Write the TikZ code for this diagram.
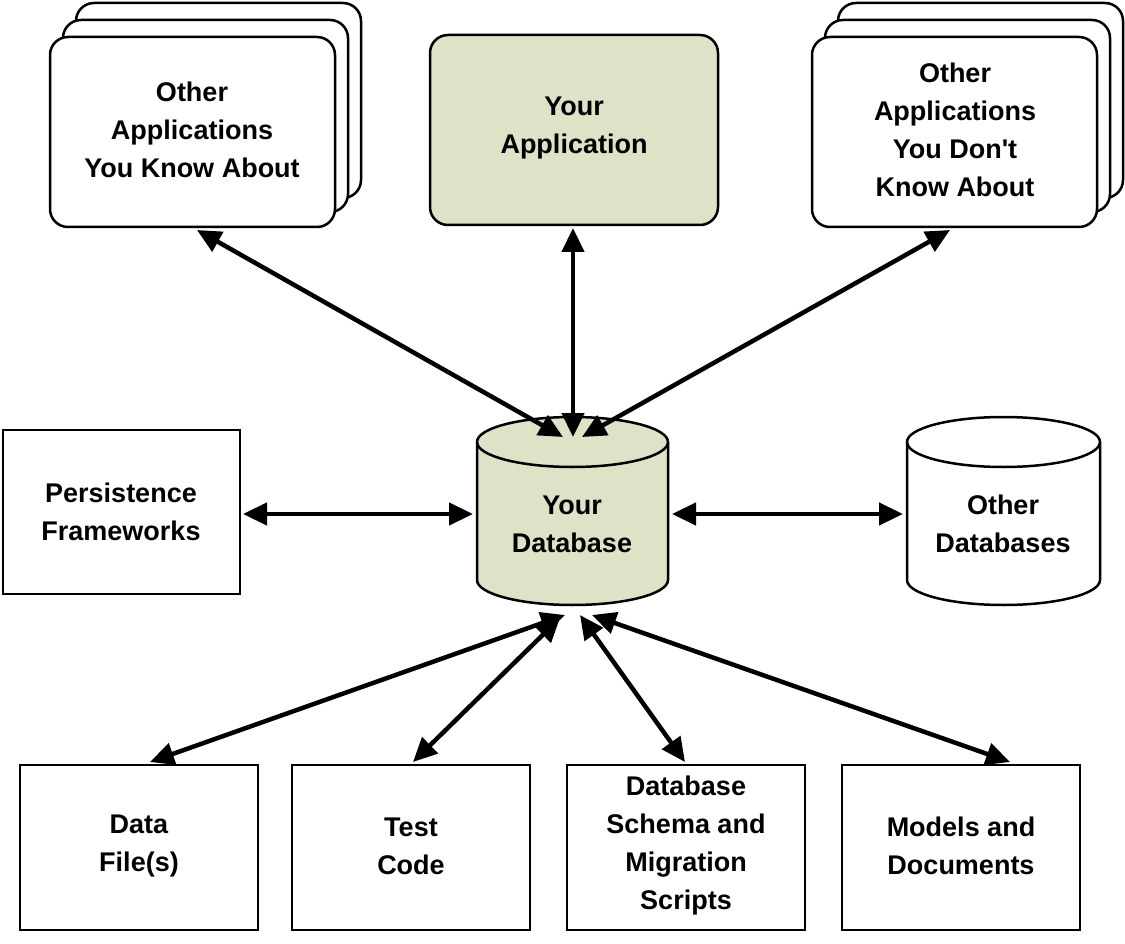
\documentclass[tikz,border=0pt]{standalone}
\usepackage{fontspec}
\setmainfont{Liberation Sans}
\usetikzlibrary{arrows.meta}
\definecolor{grn}{HTML}{DCE3C6}
\begin{document}
\begin{tikzpicture}[x=1pt,y=-1pt,
  lbl/.style={font=\fontsize{27}{38}\selectfont\bfseries,align=center},
  bx/.style={draw,line width=2.5pt,fill=white},
  rbx/.style={bx,rounded corners=18pt},
  arr/.style={line width=4.5pt,{Triangle[length=24pt,width=22pt]}-{Triangle[length=24pt,width=22pt]}}]
\useasboundingbox (0,0) rectangle (1125,944);
% stacks left
\draw[rbx] (76,3) rectangle (361,198);
\draw[rbx] (63,20) rectangle (348,212);
\draw[rbx] (50,37) rectangle (335,227);
\node[lbl] (known) at (192,130) {Other\\Applications\\You Know About};
% your app
\draw[rbx,fill=grn] (430,35) rectangle (718,225);
\node[lbl] (app) at (574,128) {Your\\Application};
% stacks right
\draw[rbx] (838,3) rectangle (1123,198);
\draw[rbx] (825,20) rectangle (1110,212);
\draw[rbx] (812,37) rectangle (1097,227);
\node[lbl] (unknown) at (955,130) {Other\\Applications\\You Don\textquotesingle t\\Know About};
% persistence
\draw[bx] (3,430) rectangle (240,594);
\node[lbl] (pers) at (121,512) {Persistence\\Frameworks};
% database cylinder
\draw[bx,fill=grn] (477,442) -- (477,580) arc[start angle=180,end angle=360,x radius=95.5pt,y radius=25pt] -- (668,442) arc[start angle=0,end angle=180,x radius=95.5pt,y radius=25pt] -- cycle;
\draw[line width=2.5pt] (477,442) arc[start angle=180,end angle=360,x radius=95.5pt,y radius=25pt];
\node[lbl] (db) at (572,524) {Your\\Database};
% other db
\draw[bx] (907,442) -- (907,580) arc[start angle=180,end angle=360,x radius=96.5pt,y radius=25pt] -- (1100,442) arc[start angle=0,end angle=180,x radius=96.5pt,y radius=25pt] -- cycle;
\draw[line width=2.5pt] (907,442) arc[start angle=180,end angle=360,x radius=96.5pt,y radius=25pt];
\node[lbl] (odb) at (1003,524) {Other\\Databases};
% bottom boxes
\draw[bx] (20,765) rectangle (258,930);
\node[lbl] (data) at (139,846) {Data\\File(s)};
\draw[bx] (292,765) rectangle (530,930);
\node[lbl] (test) at (411,846) {Test\\Code};
\draw[bx] (567,765) rectangle (805,930);
\node[lbl] (schema) at (686,846) {Database\\Schema and\\Migration\\Scripts};
\draw[bx] (842,765) rectangle (1080,930);
\node[lbl] (models) at (961,846) {Models and\\Documents};
% arrow endpoints
\coordinate (k1) at (197,230); \coordinate (k2) at (563,437);
\coordinate (a1) at (573,228); \coordinate (a2) at (573,437);
\coordinate (u1) at (950,230); \coordinate (u2) at (582,437);
\coordinate (p1) at (243,514); \coordinate (p2) at (473,514);
\coordinate (o1) at (672,514); \coordinate (o2) at (903,514);
\coordinate (d1) at (565,615); \coordinate (d2) at (150,762);
\coordinate (t1) at (560,618); \coordinate (t2) at (413,762);
\coordinate (s1) at (580,615); \coordinate (s2) at (685,762);
\coordinate (m1) at (592,615); \coordinate (m2) at (1010,762);
\draw[arr] (k1) -- (k2);
\draw[arr] (a1) -- (a2);
\draw[arr] (u1) -- (u2);
\draw[arr] (p1) -- (p2);
\draw[arr] (o1) -- (o2);
\draw[arr] (d1) -- (d2);
\draw[arr] (t1) -- (t2);
\draw[arr] (s1) -- (s2);
\draw[arr] (m1) -- (m2);
\end{tikzpicture}
\end{document}
